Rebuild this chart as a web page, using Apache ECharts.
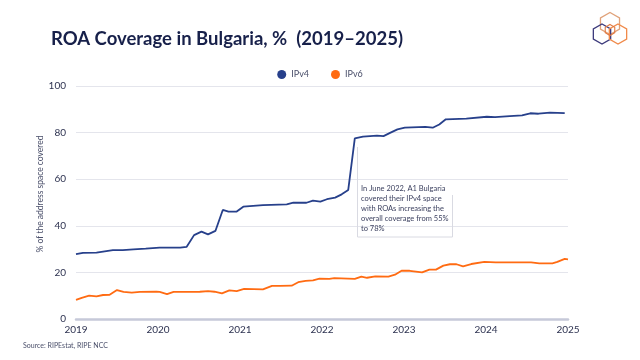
<!DOCTYPE html>
<html>
<head>
<meta charset="utf-8">
<script src="https://cdn.jsdelivr.net/npm/echarts@6/dist/echarts.min.js"></script>
<style>
html,body{margin:0;padding:0;background:#fff;}
#chart{width:640px;height:360px;}
</style>
</head>
<body>
<div id="chart"></div>
<script>
// Time positions (fractional years) and values
var ipv4Dates = [2019.00, 2019.085, 2019.25, 2019.45, 2019.57, 2019.70, 2019.85, 2020.02, 2020.27, 2020.35, 2020.44, 2020.53, 2020.61, 2020.70, 2020.79, 2020.86, 2020.96, 2021.04, 2021.28, 2021.57, 2021.65, 2021.81, 2021.89, 2021.98, 2022.06, 2022.16, 2022.24, 2022.32, 2022.40, 2022.50, 2022.67, 2022.75, 2022.83, 2022.92, 2023.01, 2023.26, 2023.35, 2023.43, 2023.51, 2023.76, 2024.01, 2024.11, 2024.29, 2024.44, 2024.54, 2024.64, 2024.78, 2024.96];
var ipv4Values = [27.8, 28.4, 28.5, 29.6, 29.6, 29.9, 30.2, 30.6, 30.6, 31.0, 36.0, 37.5, 36.3, 37.8, 46.8, 46.1, 46.1, 48.2, 48.9, 49.2, 49.9, 49.9, 50.8, 50.4, 51.4, 52.1, 53.5, 55.4, 77.5, 78.3, 78.7, 78.5, 79.9, 81.4, 82.1, 82.5, 82.1, 83.5, 85.7, 86.0, 86.8, 86.6, 87.1, 87.4, 88.3, 88.1, 88.6, 88.4];

var ipv6Dates = [2019.00, 2019.07, 2019.16, 2019.25, 2019.33, 2019.41, 2019.50, 2019.58, 2019.68, 2019.78, 2019.98, 2020.02, 2020.11, 2020.19, 2020.31, 2020.51, 2020.61, 2020.69, 2020.78, 2020.87, 2020.96, 2021.05, 2021.28, 2021.39, 2021.49, 2021.63, 2021.71, 2021.80, 2021.89, 2021.97, 2022.09, 2022.15, 2022.40, 2022.48, 2022.55, 2022.65, 2022.81, 2022.89, 2022.97, 2023.07, 2023.22, 2023.31, 2023.39, 2023.48, 2023.56, 2023.64, 2023.72, 2023.82, 2023.98, 2024.12, 2024.41, 2024.55, 2024.65, 2024.81, 2024.87, 2024.96, 2025.00];
var ipv6Values = [8.2, 9.1, 10.0, 9.7, 10.3, 10.4, 12.4, 11.6, 11.3, 11.6, 11.7, 11.6, 10.7, 11.6, 11.6, 11.7, 12.0, 11.7, 11.0, 12.3, 12.0, 12.9, 12.7, 14.2, 14.2, 14.3, 15.8, 16.4, 16.6, 17.3, 17.2, 17.5, 17.2, 18.2, 17.7, 18.3, 18.2, 19.0, 20.7, 20.7, 20.0, 21.2, 21.2, 22.9, 23.5, 23.5, 22.6, 23.6, 24.5, 24.3, 24.3, 24.3, 23.9, 23.9, 24.5, 25.8, 25.6];

var yTicks = [0, 20, 40, 60, 80, 100];
var xTicks = [2019, 2020, 2021, 2022, 2023, 2024, 2025];

var seriesNames = ['IPv4', 'IPv6'];
var colors = ['#27408b', '#ff6b12'];

function pairs(xs, ys) {
  var out = [];
  for (var i = 0; i < xs.length; i++) {
    if (xs[i] <= 2025) out.push([xs[i], ys[i]]);
  }
  return out;
}

var chart = echarts.init(document.getElementById('chart'));
var fontFam = 'Lato, "Open Sans", sans-serif';

function hex(cx, cy, r) {
  var pts = [];
  for (var i = 0; i < 6; i++) {
    var a = Math.PI / 180 * (60 * i - 90);
    pts.push([cx + r * Math.cos(a), cy + r * Math.sin(a)]);
  }
  return pts;
}

var option = {
  animation: false,
  backgroundColor: '#ffffff',
  color: colors,
  title: {
    text: 'ROA Coverage in Bulgaria, %  (2019–2025)',
    left: 46,
    top: 25,
    textStyle: {
      fontFamily: 'Lato, sans-serif',
      fontWeight: 'bold',
      fontSize: 18.5,
      color: '#17204a'
    }
  },
  legend: {
    data: seriesNames,
    top: 65,
    left: 'center',
    icon: 'circle',
    itemWidth: 9,
    itemHeight: 9,
    itemGap: 22,
    textStyle: { fontFamily: fontFam, fontSize: 9, color: '#4a4f6a' }
  },
  grid: { left: 76, right: 72, top: 86, bottom: 41, containLabel: false },
  xAxis: {
    type: 'value',
    min: xTicks[0],
    max: xTicks[xTicks.length - 1],
    interval: 1,
    axisLine: { show: true, lineStyle: { color: '#c6c9d9', width: 2.5 } },
    axisTick: { show: false },
    splitLine: { show: false },
    axisLabel: {
      margin: 6,
      fontFamily: fontFam,
      fontSize: 10,
      color: '#2d3250',
      formatter: function (v) { return String(Math.round(v)); }
    }
  },
  yAxis: {
    type: 'value',
    min: yTicks[0],
    max: yTicks[yTicks.length - 1],
    interval: 20,
    axisLine: { show: false },
    axisTick: { show: false },
    splitLine: { lineStyle: { color: '#e4e5ec', width: 1 } },
    axisLabel: { margin: 10, fontFamily: fontFam, fontSize: 10, color: '#2d3250' }
  },
  series: [
    {
      name: seriesNames[0],
      type: 'line',
      data: pairs(ipv4Dates, ipv4Values),
      showSymbol: false,
      symbol: 'circle',
      lineStyle: { width: 1.8, color: colors[0] },
      itemStyle: { color: colors[0] },
      z: 3
    },
    {
      name: seriesNames[1],
      type: 'line',
      data: pairs(ipv6Dates, ipv6Values),
      showSymbol: false,
      symbol: 'circle',
      lineStyle: { width: 1.8, color: colors[1] },
      itemStyle: { color: colors[1] },
      z: 3
    }
  ],
  graphic: [
    {
      type: 'text',
      x: 40,
      y: 194,
      rotation: Math.PI / 2,
      style: {
        text: '% of the address space covered',
        fontFamily: fontFam,
        fontSize: 8.5,
        fill: '#4a4f6a',
        align: 'center',
        verticalAlign: 'middle'
      }
    },
    {
      type: 'polyline',
      shape: { points: [[357.5, 147], [357.5, 237], [452.5, 237], [452.5, 195]] },
      style: { stroke: '#d9dae2', lineWidth: 1, fill: null },
      z: 1
    },
    {
      type: 'text',
      left: 361,
      top: 184,
      style: {
        text: 'In June 2022, A1 Bulgaria\ncovered their IPv4 space\nwith ROAs increasing the\noverall coverage from 55%\nto 78%',
        fontFamily: fontFam,
        fontSize: 7.5,
        lineHeight: 9.8,
        fill: '#3a3f5e'
      },
      z: 5
    },
    {
      type: 'text',
      left: 23,
      top: 342,
      style: {
        text: 'Source: RIPEstat, RIPE NCC',
        fontFamily: fontFam,
        fontSize: 7,
        fill: '#4a4f6a'
      }
    },
    {
      type: 'polygon',
      shape: { points: hex(610, 23.5, 11) },
      style: { stroke: '#e0a27a', lineWidth: 1.3, fill: null }
    },
    {
      type: 'polygon',
      shape: { points: hex(602, 34, 10) },
      style: { stroke: '#3d3b7c', lineWidth: 1.3, fill: null }
    },
    {
      type: 'polygon',
      shape: { points: hex(618, 34, 10) },
      style: { stroke: '#f08a4a', lineWidth: 1.3, fill: null }
    },
    {
      type: 'polygon',
      shape: { points: hex(610, 30, 5.5) },
      style: { stroke: '#e07840', lineWidth: 1.1, fill: null }
    }
  ]
};
chart.setOption(option);
</script>
</body>
</html>
